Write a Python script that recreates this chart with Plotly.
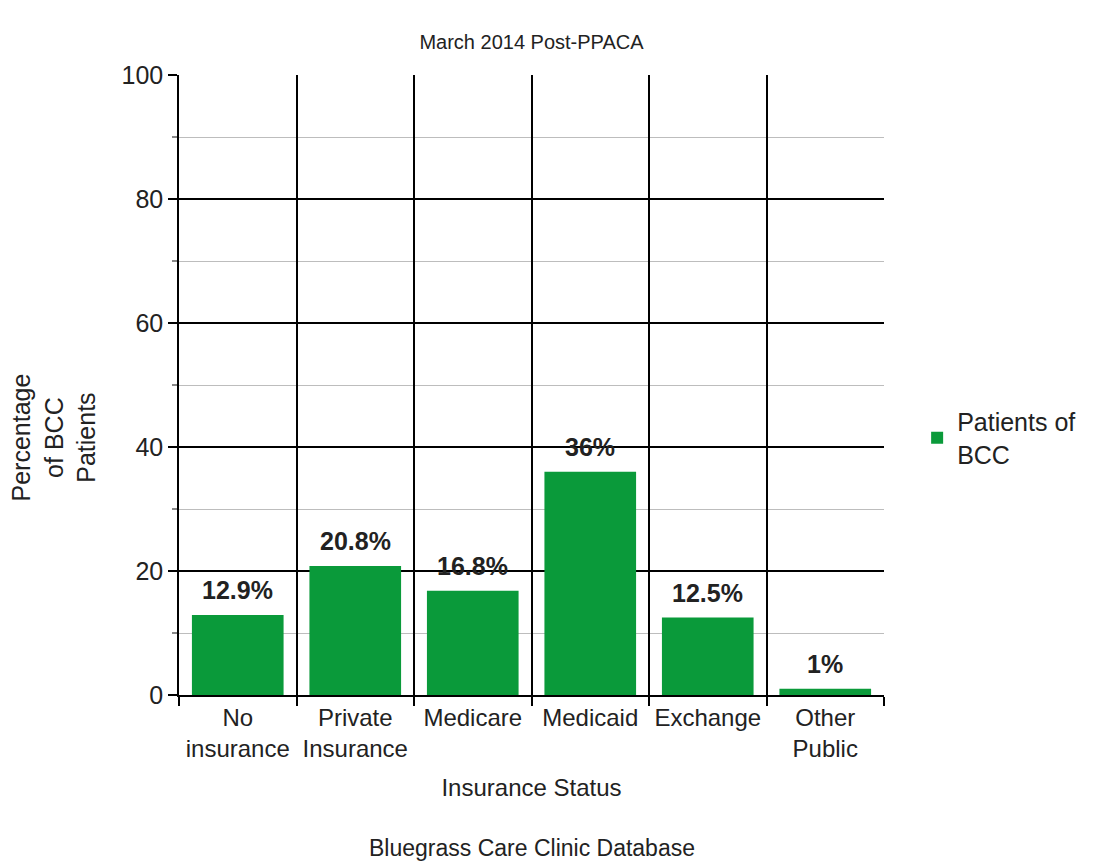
import plotly.graph_objects as go

categories = ["No<br>insurance", "Private<br>Insurance", "Medicare", "Medicaid", "Exchange", "Other<br>Public"]
values = [12.9, 20.8, 16.8, 36, 12.5, 1]
value_labels = ["12.9%", "20.8%", "16.8%", "36%", "12.5%", "1%"]
y_ticks = [0, 20, 40, 60, 80, 100]
series_name = "Patients of<br>BCC"

FONT = "Liberation Sans, Arial, sans-serif"
GREEN = "#0a9a3a"
TXT = "#222"

fig = go.Figure()
fig.add_trace(go.Bar(
    x=categories, y=values, name=series_name,
    marker=dict(color=GREEN, line=dict(width=0)),
    showlegend=True,
))

for c, v, t in zip(categories, values, value_labels):
    fig.add_annotation(x=c, y=v, text="<b>%s</b>" % t, showarrow=False,
                       yanchor="bottom", yshift=9,
                       font=dict(family=FONT, size=25, color=TXT))

fig.add_annotation(text="Bluegrass Care Clinic Database", xref="paper", yref="paper",
                   x=0.5, y=-0.247, yanchor="middle", showarrow=False,
                   font=dict(family=FONT, size=23, color=TXT))

fig.add_annotation(text="Percentage<br>of BCC<br>Patients", xref="paper", yref="paper",
                   x=-0.178, y=0.4145, xanchor="center", yanchor="middle", textangle=-90,
                   showarrow=False, font=dict(family=FONT, size=25, color=TXT))

fig.update_layout(
    width=1097, height=863,
    margin=dict(l=179, r=213, t=75, b=168),
    paper_bgcolor="white", plot_bgcolor="white",
    font=dict(family=FONT, color=TXT),
    bargap=0.22,
    title=dict(text="March 2014 Post-PPACA", x=0.5, xref="paper", xanchor="center",
               y=1 - 42 / 863, yanchor="middle", font=dict(size=20, color=TXT)),
    legend=dict(x=1.047, y=0.415, xanchor="left", yanchor="middle",
                font=dict(size=25, color=TXT), bgcolor="rgba(0,0,0,0)"),
    xaxis=dict(
        type="category", tickson="boundaries", showgrid=True, gridcolor="#000", gridwidth=1.5,
        ticks="outside", ticklen=9, tickcolor="#000", tickwidth=1.5,
        showline=True, linecolor="#000", linewidth=1.5,
        tickfont=dict(size=24, color=TXT),
        title=dict(text="Insurance Status", font=dict(size=24, color=TXT), standoff=18),
    ),
    yaxis=dict(
        range=[0, 100], tickvals=y_ticks, showgrid=True, gridcolor="#000", gridwidth=1.5,
        ticks="outside", ticklen=9, tickcolor="#000", tickwidth=1.5,
        showline=True, linecolor="#000", linewidth=1.5, zeroline=False,
        minor=dict(dtick=10, showgrid=True, gridcolor="#bdbdbd", gridwidth=1,
                   ticks="outside", ticklen=5, tickcolor="#888"),
        tickfont=dict(size=25, color=TXT),
    ),
)

fig.write_html("out.html", config={"displayModeBar": False},
               post_script="document.body.style.margin='0';document.body.style.overflow='hidden';")
